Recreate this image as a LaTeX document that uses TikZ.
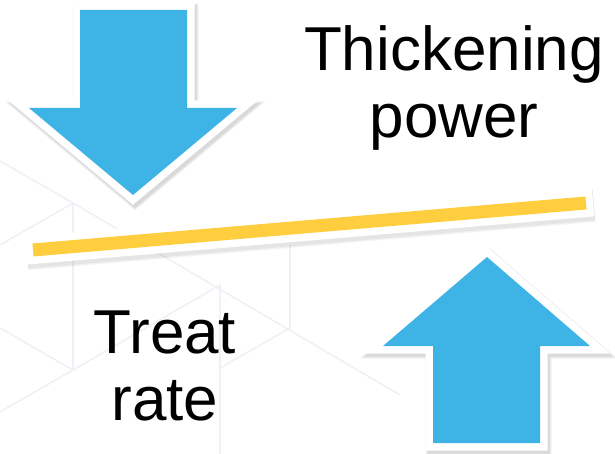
\documentclass[tikz,border=0pt]{standalone}
\usepackage{fontspec}
\setmainfont{Liberation Sans}

\definecolor{arrowblue}{RGB}{61,180,229}
\definecolor{baryellow}{RGB}{255,206,62}
\definecolor{cubegray}{RGB}{240,241,246}

\newcommand{\downarrowpath}{(80,10) -- (187,10) -- (187,108) -- (237,108) -- (133,195) -- (29,108) -- (80,108) -- cycle}
\newcommand{\uparrowpath}{(433,443) -- (540,443) -- (540,346) -- (590,346) -- (487,257) -- (383,346) -- (433,346) -- cycle}

\tikzset{
  cube line/.style = {cubegray, line width=1.6pt},
  shadow line/.style = {black, opacity=0.05, line join=miter},
  border line/.style = {draw=white, fill=white, line width=15pt, line join=miter},
  label text/.style = {font=\fontsize{62}{67}\selectfont, align=center, inner sep=0pt}
}

\begin{document}
\begin{tikzpicture}[x=1pt, y=-1pt]

\useasboundingbox[fill=white] (0,0) rectangle (615,454);

% faint cube pattern behind
\draw[cube line] (0,161) -- (73,203) -- (0,245);
\draw[cube line] (73,203) -- (73,370);
\draw[cube line] (73,203) -- (400,395);
\draw[cube line] (0,328) -- (73,370) -- (0,412);
\draw[cube line] (73,370) -- (220,285) -- (220,454);
\draw[cube line] (290,245) -- (290,328) -- (220,368);

% arrow pushing down
\foreach \w in {15,17,19}
  \draw[shadow line, line width=\w pt, shift={(2,3)}] \downarrowpath;
\filldraw[border line] \downarrowpath;
\fill[arrowblue] \downarrowpath;

% the bar
\coordinate (barL) at (33,250);
\coordinate (barR) at (586,203);
\foreach \w in {30,33}
  \draw[shadow line, line width=\w pt, shorten <=-7pt, shorten >=-7pt]
    ([shift={(1,3)}]barL) -- ([shift={(1,3)}]barR);
\draw[white, line width=28pt, shorten <=-7pt, shorten >=-7pt] (barL) -- (barR);
\draw[baryellow, line width=13pt] (barL) -- (barR);

% arrow pushing up
\foreach \w in {15,17,19}
  \draw[shadow line, line width=\w pt, shift={(2,3)}] \uparrowpath;
\filldraw[border line] \uparrowpath;
\fill[arrowblue] \uparrowpath;

\node[label text] (thick) at (454,88) {Thickening\\power};
\node[label text] (treat) at (165,366) {Treat\\rate};

\end{tikzpicture}
\end{document}
